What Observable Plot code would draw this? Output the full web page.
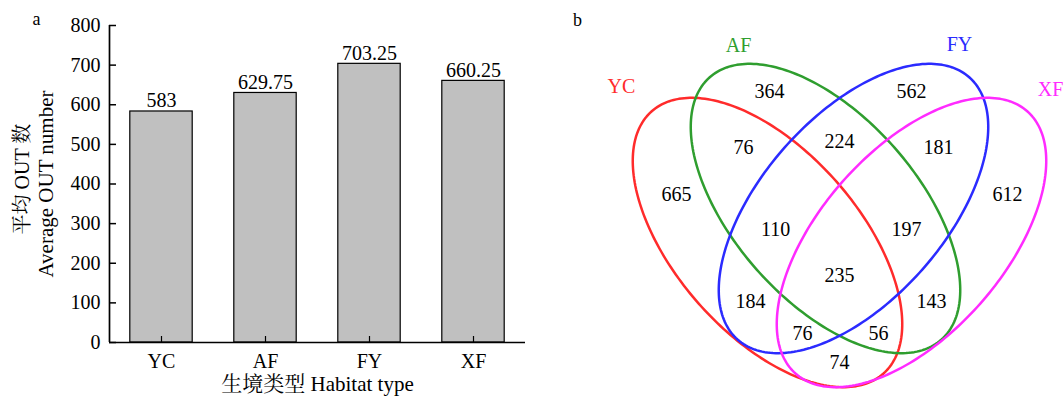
<!DOCTYPE html>
<html>
<head>
<meta charset="utf-8">
<script src="https://cdn.jsdelivr.net/npm/d3@7"></script>
<script src="https://cdn.jsdelivr.net/npm/@observablehq/plot@0.6"></script>
<style>
html, body { margin: 0; padding: 0; background: #fff; overflow: hidden; }
#wrap { display: flex; width: 1063px; height: 396px; }
#wrap svg { display: block; }
</style>
</head>
<body>
<div id="wrap"></div>
<script>
// ---------- Panel a : bar chart data ----------
const habitats = ["YC", "AF", "FY", "XF"];
const avgOTU = [583, 629.75, 703.25, 660.25];
const yTicks = [0, 100, 200, 300, 400, 500, 600, 700, 800];
const yTitleZh = "平均 OUT 数";
const yTitleEn = "Average OUT number";
const xTitle = "生境类型 Habitat type";

// ---------- Panel b : Venn data ----------
const setNames = ["YC", "AF", "FY", "XF"];
const setColors = ["#ff2b2b", "#2f9e2f", "#2b2bff", "#ff2bff"];
const regionSets = ["AF", "FY", "YC&AF", "AF&FY", "FY&XF", "YC", "XF",
  "YC&AF&FY", "AF&FY&XF", "YC&AF&FY&XF", "YC&FY", "AF&XF", "YC&FY&XF", "YC&AF&XF", "YC&XF"];
const regionCounts = [364, 562, 76, 224, 181, 665, 612, 110, 197, 235, 184, 143, 76, 56, 74];

// ---------- Venn layout (diagram units) ----------
const ellipseSpec = [
  {set: "YC", cx: -0.72, cy: -0.02, a: 1.75, b: 0.92, angle: -48.6},
  {set: "AF", cx: -0.14, cy: 0.32, a: 1.75, b: 0.92, angle: -48.6},
  {set: "FY", cx: 0.14, cy: 0.32, a: 1.75, b: 0.92, angle: 48.6},
  {set: "XF", cx: 0.72, cy: -0.02, a: 1.75, b: 0.92, angle: 48.6}
];
const regionAnchorU = [-0.70, 0.72, -0.96, 0, 0.99, -1.63, 1.68, -0.64, 0.67, 0, -0.89, 0.92, -0.37, 0.39, 0];
const regionAnchorV = [1.49, 1.49, 0.93, 0.99, 0.93, 0.46, 0.46, 0.11, 0.11, -0.35, -0.61, -0.61, -0.93, -0.93, -1.22];
const setLabelU = [-2.18, -1.01, 1.20, 2.11];
const setLabelV = [1.54, 1.95, 1.96, 1.51];

const fontFamily = "'Liberation Serif', 'Noto Serif CJK SC', 'Noto Sans CJK SC', serif";
const baseStyle = {fontFamily, fontSize: "20px", background: "white", color: "black", overflow: "visible"};

// ---------- Panel a ----------
const barData = habitats.map((h, i) => ({habitat: h, idx: i, value: avgOTU[i]}));
const barHalf = 0.3;

const plotA = Plot.plot({
  width: 540, height: 396,
  marginLeft: 109, marginRight: 15, marginTop: 25, marginBottom: 54,
  style: baseStyle,
  x: {domain: [-0.5, habitats.length - 0.5], label: null},
  y: {domain: [0, 800], label: null},
  marks: [
    Plot.rectY(barData, {x1: d => d.idx - barHalf, x2: d => d.idx + barHalf, y: "value", fill: "#c0c0c0", stroke: "#000", strokeWidth: 1.2}),
    Plot.text(barData, {x: "idx", y: "value", text: d => String(d.value), lineAnchor: "bottom", dy: -4, fill: "#000"}),
    // axis lines
    Plot.ruleY([0], {stroke: "#000", strokeWidth: 1.7}),
    Plot.ruleX([-0.5], {stroke: "#000", strokeWidth: 1.7}),
    // inward ticks
    Plot.axisY({ticks: yTicks, tickSize: 7, dx: 7, tickFormat: () => "", label: null, stroke: "#000", strokeWidth: 1.5}),
    Plot.axisX({ticks: barData.map(d => d.idx), tickSize: 6, dy: -6, tickFormat: () => "", label: null, stroke: "#000", strokeWidth: 1.2}),
    // tick labels
    Plot.axisY({ticks: yTicks, tickSize: 0, tickPadding: 9, label: null, fill: "#000"}),
    Plot.axisX({ticks: barData.map(d => d.idx), tickSize: 0, tickPadding: 11, tickFormat: i => habitats[i], label: null, fill: "#000"}),
    // titles
    Plot.text([yTitleZh], {frameAnchor: "left", rotate: -90, dx: -87, dy: -5, textAnchor: "middle", lineAnchor: "middle", fill: "#000", fontSize: 20}),
    Plot.text([yTitleEn], {frameAnchor: "left", rotate: -90, dx: -63, textAnchor: "middle", lineAnchor: "middle", fill: "#000", fontSize: 21}),
    Plot.text([xTitle], {frameAnchor: "bottom", dy: 48, textAnchor: "middle", lineAnchor: "bottom", fill: "#000", fontSize: 21}),
    Plot.text(["a"], {frameAnchor: "top-left", dx: -73, dy: -1, lineAnchor: "bottom", textAnchor: "middle", fill: "#000", fontSize: 18})
  ]
});

// ---------- Panel b ----------
const ellipsePts = [];
ellipseSpec.forEach(e => {
  const phi = e.angle * Math.PI / 180;
  const N = 240;
  for (let k = 0; k < N; k++) {
    const t = 2 * Math.PI * k / N;
    const ca = e.a * Math.cos(t), sb = e.b * Math.sin(t);
    ellipsePts.push({
      set: e.set,
      u: e.cx + ca * Math.cos(phi) - sb * Math.sin(phi),
      v: e.cy + ca * Math.sin(phi) + sb * Math.cos(phi)
    });
  }
});

const plotB = Plot.plot({
  width: 523, height: 396,
  margin: 0,
  style: baseStyle,
  x: {domain: [-2.99, 2.24], axis: null},
  y: {domain: [-1.56, 2.40], axis: null},
  color: {domain: setNames, range: setColors},
  marks: [
    Plot.line(ellipsePts, {x: "u", y: "v", z: "set", stroke: "set", curve: "linear-closed", strokeWidth: 2.5}),
    Plot.text(regionCounts, {x: (d, i) => regionAnchorU[i], y: (d, i) => regionAnchorV[i], text: d => String(d), fill: "#000", lineAnchor: "middle"}),
    Plot.text(setNames, {x: (d, i) => setLabelU[i], y: (d, i) => setLabelV[i], text: d => d, fill: d => d, lineAnchor: "middle"}),
    Plot.text(["b"], {frameAnchor: "top-left", dx: 37, dy: 25, lineAnchor: "bottom", textAnchor: "middle", fill: "#000", fontSize: 18})
  ]
});

document.getElementById("wrap").append(plotA, plotB);
</script>
</body>
</html>
